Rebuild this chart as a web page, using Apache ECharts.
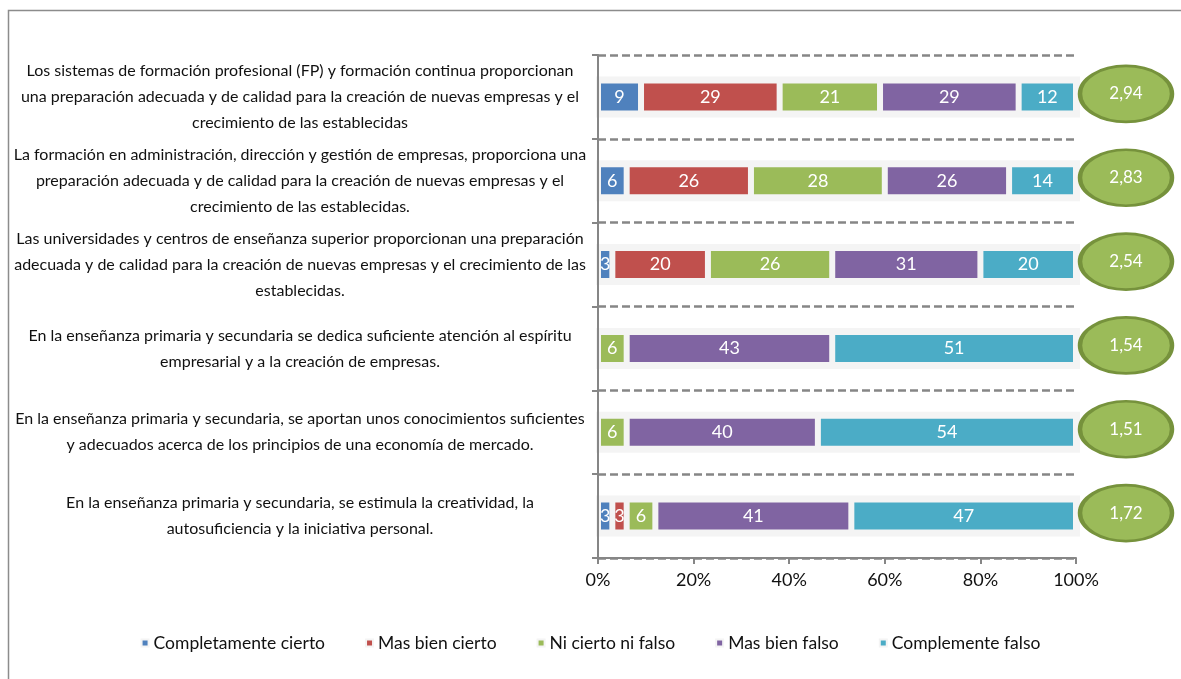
<!DOCTYPE html>
<html>
<head>
<meta charset="utf-8">
<title>Formación y emprendimiento</title>
<script src="https://cdn.jsdelivr.net/npm/echarts@6/dist/echarts.min.js"></script>
<style>
  html, body { margin: 0; padding: 0; background: #fff; }
  #chart { width: 1181px; height: 679px; }
</style>
</head>
<body>
<div id="chart"></div>
<script>
const categories = [
  'Los sistemas de formación profesional (FP) y formación continua proporcionan\nuna preparación adecuada y de calidad para la creación de nuevas empresas y el\ncrecimiento de las establecidas',
  'La formación en administración, dirección y gestión de empresas, proporciona una\npreparación adecuada y de calidad para la creación de nuevas empresas y el\ncrecimiento de las establecidas.',
  'Las universidades y centros de enseñanza superior proporcionan una preparación\nadecuada y de calidad para la creación de nuevas empresas y el crecimiento de las\nestablecidas.',
  'En la enseñanza primaria y secundaria se dedica suficiente atención al espíritu\nempresarial y a la creación de empresas.',
  'En la enseñanza primaria y secundaria, se aportan unos conocimientos suficientes\ny adecuados acerca de los principios de una economía de mercado.',
  'En la enseñanza primaria y secundaria, se estimula la creatividad, la\nautosuficiencia y la iniciativa personal.'
]

const seriesNames = ['Completamente cierto', 'Mas bien cierto', 'Ni cierto ni falso', 'Mas bien falso', 'Complemente falso']
const completamenteCierto = [9, 6, 3, 0, 0, 3]
const masBienCierto = [29, 26, 20, 0, 0, 3]
const niCiertoNiFalso = [21, 28, 26, 6, 6, 6]
const masBienFalso = [29, 26, 31, 43, 40, 41]
const complementeFalso = [12, 14, 20, 51, 54, 47]
const scores = [2.94, 2.83, 2.54, 1.54, 1.51, 1.72]
const xTicks = [0, 20, 40, 60, 80, 100]

const colors = ['#4F81BD', '#C0504D', '#9BBB59', '#8064A2', '#4BACC6']
const FONT = 'Lato, "Open Sans", sans-serif'
const BAND = '#F4F4F4'

const chart = echarts.init(document.getElementById('chart'))

const values = [completamenteCierto, masBienCierto, niCiertoNiFalso, masBienFalso, complementeFalso]

const barSeries = values.map((arr, i) => ({
  name: seriesNames[i],
  type: 'bar',
  stack: 'total',
  xAxisIndex: 0,
  yAxisIndex: 0,
  barWidth: 33,
  z: 3,
  data: arr.map(v => (v === 0 ? '-' : v)),
  itemStyle: {
    color: colors[i],
    borderColor: BAND,
    borderWidth: 3,
  },
  label: {
    show: true,
    position: 'inside',
    color: '#fff',
    fontSize: 18,
    fontFamily: FONT,
  },
}))

const option = {
  animation: false,
  textStyle: { fontFamily: FONT },
  graphic: [
    {
      type: 'rect',
      shape: { x: 8.5, y: 10.5, width: 1200, height: 700 },
      style: { fill: 'none', stroke: '#8C8C8C', lineWidth: 1.5 },
      silent: true,
      z: -1,
    },
  ],
  legend: {
    top: 629,
    left: 'center',
    icon: 'rect',
    itemWidth: 7,
    itemHeight: 7,
    itemGap: 40,
    data: seriesNames,
    textStyle: { fontSize: 17.5, color: '#111', fontFamily: FONT },
  },
  grid: [
    { left: 598, right: 105, top: 55, bottom: 121 },
    { left: 1076, width: 100, top: 55, bottom: 121 },
    { left: 596, right: 101, top: 55, bottom: 121 },
  ],
  xAxis: [
    {
      type: 'value',
      gridIndex: 0,
      min: 0,
      max: 100,
      interval: 20,
      axisLine: { show: true, lineStyle: { color: '#868686', width: 2 } },
      axisTick: { show: true, length: 6, lineStyle: { color: '#868686', width: 2 } },
      splitLine: { show: false },
      axisLabel: {
        fontSize: 18,
        color: '#111',
        margin: 13,
        formatter: v => (xTicks.includes(v) ? v + '%' : ''),
      },
    },
    { type: 'value', gridIndex: 1, min: 0, max: 1, show: false },
    { type: 'value', gridIndex: 2, min: 0, max: 100, show: false },
  ],
  yAxis: [
    {
      type: 'category',
      gridIndex: 0,
      inverse: true,
      data: categories,
      z: 4,
      axisLine: { show: true, lineStyle: { color: '#868686', width: 2 } },
      axisTick: { show: true, length: 6, lineStyle: { color: '#868686', width: 2 } },
      splitLine: { show: true, lineStyle: { color: '#868686', width: 2.5, type: [8, 4] } },
      axisLabel: {
        margin: 8,
        formatter: v => v.split('\n').map(l => '{t|' + l + '}').join('\n'),
        rich: {
          t: {
            width: 580,
            align: 'center',
            fontSize: 16,
            lineHeight: 26,
            color: '#111',
            fontFamily: FONT,
          },
        },
      },
    },
    { type: 'category', gridIndex: 1, inverse: true, data: categories, show: false },
    { type: 'category', gridIndex: 2, inverse: true, data: categories, show: false },
  ],
  series: [
    // light band behind each row of bars
    {
      name: 'band',
      type: 'bar',
      xAxisIndex: 2,
      yAxisIndex: 2,
      barWidth: 41,
      z: 1,
      silent: true,
      data: categories.map(() => 100),
      itemStyle: { color: BAND },
    },
    ...barSeries,
    {
      name: 'Media',
      type: 'scatter',
      xAxisIndex: 1,
      yAxisIndex: 1,
      symbol: 'circle',
      symbolSize: [92, 56],
      symbolOffset: [0, -3],
      z: 5,
      data: scores.map((s, i) => [0.5, i, s]),
      itemStyle: { color: '#9BBB59', borderColor: '#76923C', borderWidth: 3.5, opacity: 1 },
      label: {
        show: true,
        position: 'inside',
        color: '#fff',
        fontSize: 17,
        fontFamily: FONT,
        formatter: p => p.value[2].toFixed(2).replace('.', ','),
      },
    },
  ],
}

chart.setOption(option)
</script>
</body>
</html>
